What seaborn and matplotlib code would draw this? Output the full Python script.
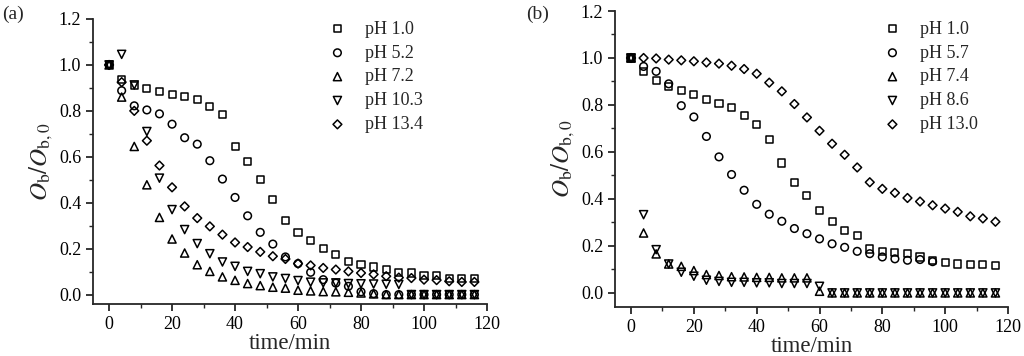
import numpy as np
import matplotlib
matplotlib.use("Agg")
import matplotlib.pyplot as plt
import seaborn as sns
from matplotlib.ticker import MultipleLocator

# sampling times (min), shared by both panels
time = [0, 4, 8, 12, 16, 20, 24, 28, 32, 36, 40, 44, 48, 52, 56,
        60, 64, 68, 72, 76, 80, 84, 88, 92, 96, 100, 104, 108, 112, 116]

# panel (a)
a_labels = ["pH 1.0", "pH 5.2", "pH 7.2", "pH 10.3", "pH 13.4"]
a_ph10 = [1.0, 0.935, 0.91, 0.896, 0.884, 0.873, 0.861, 0.848, 0.82, 0.784,
          0.643, 0.578, 0.503, 0.413, 0.322, 0.271, 0.236, 0.199, 0.174, 0.145,
          0.132, 0.12, 0.109, 0.097, 0.094, 0.083, 0.083, 0.072, 0.072, 0.072]
a_ph52 = [1.0, 0.888, 0.822, 0.804, 0.787, 0.742, 0.683, 0.655, 0.583, 0.503,
          0.423, 0.343, 0.271, 0.22, 0.164, 0.135, 0.097, 0.065, 0.05, 0.036,
          0.012, 0.004, 0.0, 0.0, 0.0, 0.0, 0.0, 0.0, 0.0, 0.0]
a_ph72 = [1.0, 0.86, 0.645, 0.478, 0.336, 0.242, 0.181, 0.13, 0.101, 0.077,
          0.062, 0.048, 0.039, 0.032, 0.028, 0.019, 0.016, 0.013, 0.012, 0.01,
          0.007, 0.003, 0.0, 0.0, 0.0, 0.0, 0.0, 0.0, 0.0, 0.0]
a_ph103 = [1.0, 1.046, 0.913, 0.71, 0.507, 0.37, 0.283, 0.222, 0.178, 0.142,
           0.123, 0.101, 0.091, 0.077, 0.07, 0.061, 0.054, 0.051, 0.051, 0.048,
           0.047, 0.046, 0.045, 0.044, 0.0, 0.0, 0.0, 0.0, 0.0, 0.0]
a_ph134 = [1.0, 0.925, 0.80, 0.67, 0.562, 0.467, 0.384, 0.333, 0.297, 0.261,
           0.227, 0.207, 0.186, 0.167, 0.155, 0.135, 0.127, 0.116, 0.109, 0.101,
           0.094, 0.088, 0.08, 0.074, 0.072, 0.065, 0.063, 0.058, 0.055, 0.055]

# panel (b)
b_labels = ["pH 1.0", "pH 5.7", "pH 7.4", "pH 8.6", "pH 13.0"]
b_ph10 = [1.0, 0.943, 0.905, 0.877, 0.861, 0.843, 0.824, 0.806, 0.791, 0.754,
          0.716, 0.654, 0.553, 0.471, 0.414, 0.349, 0.305, 0.267, 0.243, 0.187,
          0.177, 0.173, 0.166, 0.153, 0.137, 0.128, 0.123, 0.12, 0.12, 0.116]
b_ph57 = [1.0, 0.964, 0.943, 0.89, 0.797, 0.749, 0.666, 0.579, 0.504, 0.437,
          0.377, 0.335, 0.305, 0.274, 0.252, 0.23, 0.209, 0.194, 0.177, 0.167,
          0.153, 0.145, 0.139, 0.142, 0.133]
b_ph74 = [1.0, 0.255, 0.166, 0.123, 0.113, 0.095, 0.078, 0.074, 0.069, 0.068,
          0.066, 0.066, 0.064, 0.064, 0.064, 0.007, 0.0, 0.0, 0.0, 0.0,
          0.0, 0.0, 0.0, 0.0, 0.0, 0.0, 0.0, 0.0, 0.0, 0.0]
b_ph86 = [1.0, 0.333, 0.184, 0.123, 0.088, 0.071, 0.054, 0.049, 0.045, 0.045,
          0.043, 0.043, 0.04, 0.04, 0.04, 0.028, 0.0, 0.0, 0.0, 0.0,
          0.0, 0.0, 0.0, 0.0, 0.0, 0.0, 0.0, 0.0, 0.0, 0.0]
b_ph130 = [1.0, 1.0, 0.998, 0.993, 0.99, 0.986, 0.981, 0.976, 0.967, 0.953,
           0.933, 0.895, 0.858, 0.804, 0.747, 0.69, 0.635, 0.588, 0.534, 0.471,
           0.443, 0.426, 0.404, 0.389, 0.373, 0.359, 0.345, 0.326, 0.317, 0.303]

markers = ["s", "o", "^", "v", "D"]
sizes = [26, 30, 34, 34, 20]

sns.set_style("ticks")
plt.rcParams['font.family'] = ['Liberation Serif', 'DejaVu Serif']
plt.rcParams['mathtext.fontset'] = 'stix'


def draw_panel(ax, series, labels, ymin, leg_x):
    for vals, lab, m, s in zip(series, labels, markers, sizes):
        sns.scatterplot(x=time[:len(vals)], y=vals, marker=m, s=s,
                        facecolors='none', edgecolors='black', linewidths=1.1,
                        label=lab, ax=ax)
    ax.set_xlim(-5.1, 120)
    ax.set_ylim(ymin, 1.2)
    ax.xaxis.set_major_locator(MultipleLocator(20))
    ax.xaxis.set_minor_locator(MultipleLocator(10))
    ax.yaxis.set_major_locator(MultipleLocator(0.2))
    ax.yaxis.set_minor_locator(MultipleLocator(0.1))
    ax.yaxis.set_major_formatter(matplotlib.ticker.FormatStrFormatter('%.1f'))
    sns.despine(ax=ax)
    for sp in ax.spines.values():
        sp.set_linewidth(1.3)
    ax.tick_params(which='major', direction='out', length=5, width=1.1,
                   labelsize=13, colors='black')
    ax.tick_params(which='minor', direction='out', length=3, width=1.0)
    ax.set_xlabel('time/min', fontsize=16.5, labelpad=0)
    ax.set_ylabel(r'$O_{\mathrm{b}}/O_{\mathrm{b,0}}$', fontsize=18, labelpad=3)
    ax.legend(loc='upper left', bbox_to_anchor=(leg_x, 0.942),
              bbox_transform=plt.gcf().transFigure, frameon=False,
              fontsize=13, handlelength=1.0, handletextpad=1.0,
              labelspacing=0.38, borderpad=0, borderaxespad=0,
              scatterpoints=1)


fig = plt.figure(figsize=(10.24, 3.56), dpi=100)
ax1 = fig.add_axes([93 / 1024, 52 / 356, 394 / 1024, 285 / 356])
ax2 = fig.add_axes([615 / 1024, 49 / 356, 393 / 1024, 296 / 356])

draw_panel(ax1, [a_ph10, a_ph52, a_ph72, a_ph103, a_ph134], a_labels, -0.041, 0.3207)
draw_panel(ax2, [b_ph10, b_ph57, b_ph74, b_ph86, b_ph130], b_labels, -0.06, 0.8627)

fig.text(0.002, 0.96, '(a)', fontsize=14, va='center', ha='left')
fig.text(0.514, 0.96, '(b)', fontsize=14, va='center', ha='left')

fig.savefig('out.png', dpi=100)
